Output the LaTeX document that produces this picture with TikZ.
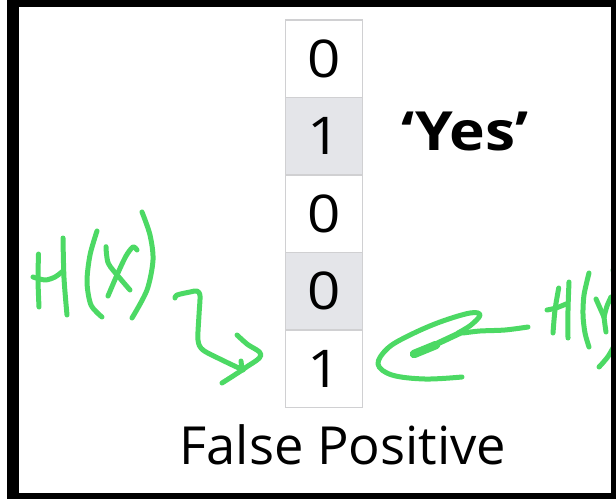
\documentclass[tikz,border=0pt]{standalone}
\usepackage{fontspec}
\setmainfont{Open Sans}
\newfontfamily\widesans[FakeStretch=1.12]{Open Sans}
\definecolor{ink}{RGB}{76,217,100}
\definecolor{cellgray}{RGB}{228,229,233}
\definecolor{cellline}{RGB}{208,208,210}
\tikzset{
  bitcell/.style={draw=cellline, line width=1.2pt, minimum width=77.7pt,
    minimum height=77.5pt, inner sep=0pt, font=\widesans\fontsize{52}{52}\selectfont},
  setbit/.style={bitcell, fill=cellgray},
  pen/.style={draw=ink, line width=5pt, line cap=round, line join=round},
  frameband/.style={fill=black},
}
\begin{document}
\begin{tikzpicture}[x=1pt,y=-1pt]
\useasboundingbox (0,0) rectangle (616,499);

% bit array
\node[bitcell] (b1) at (324,58.75)  {0};
\node[setbit]  (b2) at (324,136.25) {1};
\node[bitcell] (b3) at (324,213.75) {0};
\node[setbit]  (b4) at (324,291.25) {0};
\node[bitcell] (b5) at (324,368.75) {1};

% labels
\node[font=\widesans\fontsize{54}{54}\selectfont\bfseries, anchor=base, inner sep=0pt]
  (yes) at (465,150) {‘Yes’};
\node[font=\fontsize{52.5}{52.5}\selectfont, anchor=base, inner sep=0pt]
  (fp) at (343,464) {False Positive};

% handwritten H(X)
\draw[pen] plot[smooth] coordinates {(38.5,254) (38,280) (39,307)};
\draw[pen] plot[smooth] coordinates {(33,277) (45,280) (55,277) (63,271)};
\draw[pen] plot[smooth] coordinates {(63,238) (64,278) (67,315)};
\draw[pen] plot[smooth] coordinates {(97,231) (90,255) (87,282) (91,305) (102,317)};
\draw[pen] plot[smooth] coordinates {(106,246.7) (108.3,263.3) (120,278.3) (130,290)};
\draw[pen] plot[smooth] coordinates {(137,250) (133,247) (126,256) (117,275) (108,296)};
\draw[pen] plot[smooth] coordinates {(142,212) (150,235) (153,260) (147,290) (132,318)};

% squiggly arrow into the last cell
\draw[pen] plot[smooth, tension=0.5] coordinates {(175,298) (177,295) (190,292) (197,291)
  (200,296) (199,315) (198,340) (203,350) (222,360) (243,370)};
\draw[pen] plot[smooth, tension=0.6] coordinates {(237,335) (247,344) (261,355) (245,368) (222,383)};
\draw[pen] (241,361) -- (242,369);

% curl from H(Y) towards the last cell
\draw[pen] plot[smooth] coordinates {(528,327) (505,330) (480,331) (463,333)};
\draw[pen] plot[smooth, tension=0.6] coordinates {(462,377) (425,379) (392,375) (378,364)
  (388,348) (410,335) (440,322) (470,313) (480,315) (471,325) (458,333)};
\draw[pen, line width=8.5pt] (414,354) -- (436,345);
\draw[pen, line width=6pt] (430,347) -- (462,332);

% handwritten H(Y), partly under the frame
\draw[pen] plot[smooth] coordinates {(558.7,288) (555,310) (553,333)};
\draw[pen] plot[smooth] coordinates {(547,310) (556,308) (566,304)};
\draw[pen] plot[smooth] coordinates {(569,282) (568,310) (568,338)};
\draw[pen] plot[smooth] coordinates {(589,273) (584,295) (583,315) (585,333) (589,347)};
\draw[pen] plot[smooth] coordinates {(596,299) (600,308) (604,317)};
\draw[pen] plot[smooth] coordinates {(611,297) (607,306) (604,317)};
\draw[pen] plot[smooth] coordinates {(604,317) (605,325) (606,332)};
\draw[pen] plot[smooth] coordinates {(613,270) (620,300) (618,335) (609,355) (599,367)};

% black frame
\fill[frameband] (7.3,0) rectangle (616,6.7);
\fill[frameband] (7.3,0) rectangle (19.3,499);
\fill[frameband] (610.7,0) rectangle (616,499);
\fill[frameband] (7.3,492.7) rectangle (616,499);
\end{tikzpicture}
\end{document}
